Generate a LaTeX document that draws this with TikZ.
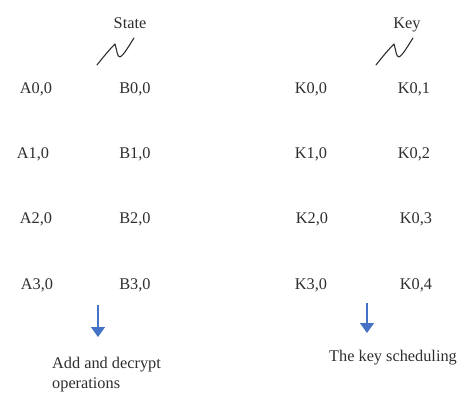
\documentclass[tikz,border=0pt]{standalone}
\usepackage{fontspec}
\setmainfont{Liberation Serif}
\usetikzlibrary{arrows.meta}
\definecolor{txt}{HTML}{2E2E2E}
\definecolor{arrblue}{HTML}{4472C4}
\tikzset{
  lbl/.style={anchor=base, inner sep=0pt, text=txt, font=\fontsize{16.3}{20}\selectfont},
  squig/.style={draw=txt, line width=1.1pt, line cap=round, line join=round},
  downarrow/.style={draw=arrblue, line width=1.1pt, -{Triangle[length=10pt,width=14pt]}}
}
\begin{document}
\begin{tikzpicture}[x=1pt,y=-1pt]
\useasboundingbox (0,0) rectangle (474,407);
% headers
\node[lbl] (state) at (130,28) {State};
\node[lbl] (key) at (407,28) {Key};
% squiggles
\draw[squig] (97,65) .. controls (104,56) and (110,49) .. (115,44) .. controls (117,50) and (117,57) .. (120,57) .. controls (124,55) and (130,44) .. (134,38);
\begin{scope}[xshift=279pt]
\draw[squig] (97,65) .. controls (104,56) and (110,49) .. (115,44) .. controls (117,50) and (117,57) .. (120,57) .. controls (124,55) and (130,44) .. (134,38);
\end{scope}
% state grid
\node[lbl] (a0) at (36,93) {A0,0};
\node[lbl] (b0) at (135,93) {B0,0};
\node[lbl] (a1) at (33,158) {A1,0};
\node[lbl] (b1) at (135,158) {B1,0};
\node[lbl] (a2) at (36,223) {A2,0};
\node[lbl] (b2) at (135,223) {B2,0};
\node[lbl] (a3) at (37,289) {A3,0};
\node[lbl] (b3) at (135,289) {B3,0};
% key grid
\node[lbl] (k00) at (311,93) {K0,0};
\node[lbl] (k01) at (414,93) {K0,1};
\node[lbl] (k10) at (311,158) {K1,0};
\node[lbl] (k02) at (414,158) {K0,2};
\node[lbl] (k20) at (312,223) {K2,0};
\node[lbl] (k03) at (416,223) {K0,3};
\node[lbl] (k30) at (311,289) {K3,0};
\node[lbl] (k04) at (416,289) {K0,4};
% arrows
\coordinate (la1) at (98,305);
\coordinate (la2) at (98,337);
\coordinate (ra1) at (367,303);
\coordinate (ra2) at (367,333);
\draw[downarrow] (la1) -- (la2);
\draw[downarrow] (ra1) -- (ra2);
% captions
\node[lbl, anchor=base west] (cap1) at (52,368) {Add and decrypt};
\node[lbl, anchor=base west] (cap1b) at (52,388) {operations};
\node[lbl] (cap2) at (393,361) {The key scheduling};
\end{tikzpicture}
\end{document}
